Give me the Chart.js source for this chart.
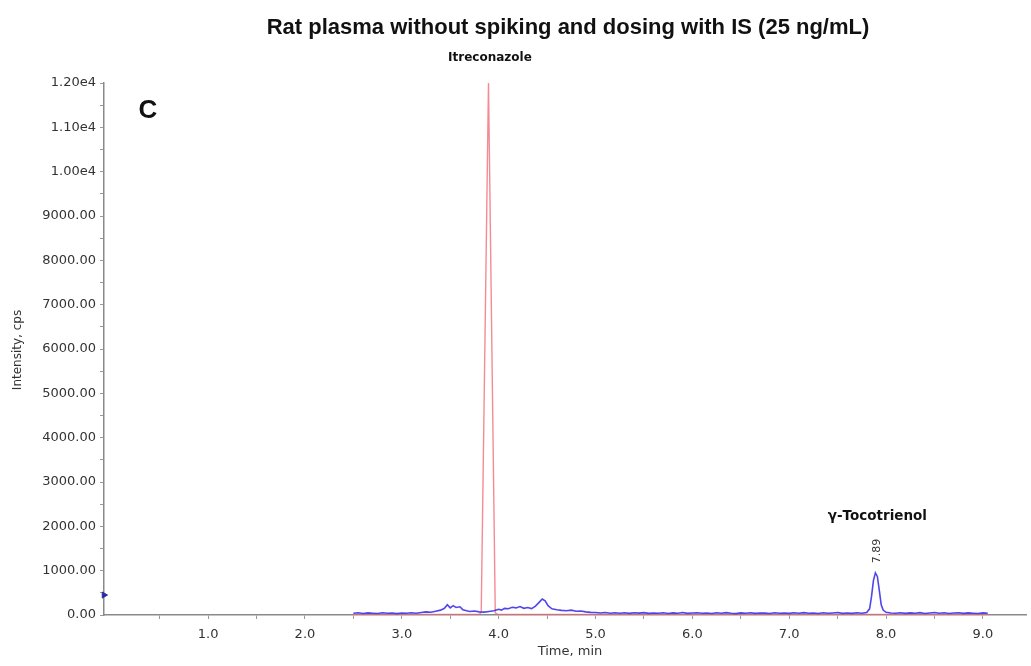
<!DOCTYPE html>
<html>
<head>
<meta charset="utf-8">
<script src="https://cdn.jsdelivr.net/npm/chart.js@4.4.1/dist/chart.umd.min.js"></script>
<style>
  html, body { margin: 0; padding: 0; background: #fff; }
  #chart { display: block; }
</style>
</head>
<body>
<canvas id="chart" width="1031" height="666"></canvas>
<script>
// gamma-tocotrienol trace (blue), time in min / intensity in cps
const tocoTime = [
  2.50, 2.55, 2.60, 2.65, 2.70, 2.75, 2.80, 2.85, 2.90, 2.95,
  3.00, 3.05, 3.10, 3.15, 3.20, 3.25, 3.30, 3.35, 3.40, 3.44,
  3.47, 3.50, 3.53, 3.56, 3.60, 3.63, 3.67, 3.70, 3.75, 3.80,
  3.85, 3.90, 3.95, 4.00, 4.03, 4.06, 4.10, 4.14, 4.18, 4.22,
  4.26, 4.30, 4.34, 4.38, 4.42, 4.45, 4.48, 4.51, 4.55, 4.60,
  4.65, 4.70, 4.75, 4.80, 4.85, 4.90, 4.95, 5.00, 5.05, 5.10,
  5.15, 5.20, 5.25, 5.30, 5.35, 5.40, 5.45, 5.50, 5.55, 5.60,
  5.65, 5.70, 5.75, 5.80, 5.85, 5.90, 5.95, 6.00, 6.05, 6.10,
  6.15, 6.20, 6.25, 6.30, 6.35, 6.40, 6.45, 6.50, 6.55, 6.60,
  6.65, 6.70, 6.75, 6.80, 6.85, 6.90, 6.95, 7.00, 7.05, 7.10,
  7.15, 7.20, 7.25, 7.30, 7.35, 7.40, 7.45, 7.50, 7.55, 7.60,
  7.65, 7.70, 7.75, 7.80, 7.83, 7.85, 7.87, 7.89, 7.91, 7.93,
  7.95, 7.97, 8.00, 8.05, 8.10, 8.15, 8.20, 8.25, 8.30, 8.35,
  8.40, 8.45, 8.50, 8.55, 8.60, 8.65, 8.70, 8.75, 8.80, 8.85,
  8.90, 8.95, 9.00, 9.05
];
const tocoCps = [
  38, 52, 34, 47, 40, 33, 50, 39, 45, 32,
  44, 38, 52, 40, 58, 70, 62, 85, 110, 150,
  230, 160, 210, 170, 185, 120, 95, 80, 90, 70,
  65, 80, 95, 130, 110, 150, 140, 175, 160, 190,
  150, 170, 145, 200, 290, 360, 320, 210, 140, 120,
  105, 95, 110, 85, 90, 70, 60, 55, 44, 56,
  40, 52, 38, 49, 36, 50, 43, 54, 37, 46,
  40, 52, 35, 47, 39, 55, 37, 45, 52, 38,
  46, 34, 51, 40, 53, 38, 32, 48, 39, 52,
  36, 46, 42, 33, 50, 39, 45, 36, 49, 40,
  54, 38, 45, 33, 50, 39, 46, 55, 37, 45,
  36, 50, 40, 58, 140, 420, 780, 950, 870, 560,
  230, 110, 60, 44, 38, 51, 36, 48, 39, 53,
  35, 45, 56, 38, 49, 33, 45, 52, 36, 48,
  40, 34, 47, 38
];

// itraconazole (IS) trace (red)
const itraTime = [2.50, 3.00, 3.50, 3.80, 3.82, 3.895, 3.965, 3.99, 4.50, 5.00, 6.00, 7.00, 7.85, 7.90, 7.95, 8.50, 9.05];
const itraCps  = [12, 10, 12, 14, 60, 12000, 50, 14, 12, 10, 10, 10, 12, 15, 12, 10, 10];

// start marker on the intensity axis
const markerTime = [-0.075];
const markerCps = [450];

const peakRt = 7.89;
const peakApex = 950;

const xTicks = [0.5, 1, 1.5, 2, 2.5, 3, 3.5, 4, 4.5, 5, 5.5, 6, 6.5, 7, 7.5, 8, 8.5, 9];
const yTicks = [0, 500, 1000, 1500, 2000, 2500, 3000, 3500, 4000, 4500, 5000, 5500,
  6000, 6500, 7000, 7500, 8000, 8500, 9000, 9500, 10000, 10500, 11000, 11500, 12000];

const toXY = (xs, ys) => xs.map((t, i) => ({ x: t, y: ys[i] }));

const SANS = '"DejaVu Sans", Verdana, sans-serif';
const ARIAL = '"Liberation Sans", Arial, sans-serif';

// titles, panel letter and peak annotations
const annotations = {
  id: 'annotations',
  afterDraw(chart) {
    const { ctx, scales: { x, y } } = chart;
    ctx.save();
    ctx.fillStyle = '#111';
    ctx.textAlign = 'center';
    ctx.textBaseline = 'middle';

    ctx.font = 'bold 22px ' + ARIAL;
    ctx.fillText('Rat plasma without spiking and dosing with IS (25 ng/mL)', 568, 28);

    ctx.font = 'bold 26px ' + ARIAL;
    ctx.fillText('C', 148, 111);

    ctx.font = 'bold 12px ' + SANS;
    ctx.fillText('Itreconazole', x.getPixelForValue(3.91), 58);

    const px = x.getPixelForValue(peakRt);
    const py = y.getPixelForValue(peakApex);
    ctx.font = 'bold 13.5px ' + SANS;
    ctx.fillText('\u03b3-Tocotrienol', px + 2, py - 56);

    ctx.save();
    ctx.translate(px + 2, py - 22);
    ctx.rotate(-Math.PI / 2);
    ctx.font = '11px ' + SANS;
    ctx.fillStyle = '#333';
    ctx.fillText(peakRt.toFixed(2), 0, 0);
    ctx.restore();

    ctx.fillStyle = '#333';
    ctx.font = '13px ' + SANS;
    ctx.fillText('Time, min', 570, 652);

    ctx.save();
    ctx.translate(18, 350);
    ctx.rotate(-Math.PI / 2);
    ctx.font = '12px ' + SANS;
    ctx.fillText('Intensity, cps', 0, 0);
    ctx.restore();

    ctx.restore();
  }
};

const ctx = document.getElementById('chart').getContext('2d');
const myChart = new Chart(ctx, {
  type: 'line',
  data: {
    datasets: [{
      label: 'gamma-Tocotrienol',
      data: toXY(tocoTime, tocoCps),
      borderColor: 'rgba(60, 50, 235, 0.9)',
      borderWidth: 1.6,
      pointRadius: 0,
      tension: 0,
      order: 0
    },
    {
      label: 'Itraconazole',
      data: toXY(itraTime, itraCps),
      borderColor: 'rgba(240, 100, 112, 0.75)',
      borderWidth: 1.4,
      pointRadius: 0,
      tension: 0,
      order: 1
    },
    {
      type: 'scatter',
      label: 'marker',
      data: toXY(markerTime, markerCps),
      pointStyle: 'triangle',
      rotation: 90,
      pointRadius: 3.5,
      backgroundColor: '#2a2aa8',
      borderColor: '#2a2aa8',
      clip: false,
      order: 0
    }]
  },
  options: {
    responsive: false,
    animation: false,
    devicePixelRatio: 1,
    layout: {
      padding: { top: 83, left: 0, right: 0, bottom: 0 }
    },
    plugins: {
      legend: { display: false },
      tooltip: { enabled: false },
      title: { display: false }
    },
    scales: {
      x: {
        type: 'linear',
        min: -0.075,
        max: 9.445,
        afterFit: (scale) => { scale.height = 51; },
        afterBuildTicks: (scale) => { scale.ticks = xTicks.map(v => ({ value: v })); },
        border: { color: '#8a8a8a', width: 1.5 },
        grid: { drawOnChartArea: false, drawTicks: true, tickLength: 4, color: '#9a9a9a' },
        ticks: {
          autoSkip: false,
          maxRotation: 0,
          padding: 8,
          color: '#333',
          font: { family: SANS, size: 13 },
          callback: (v) => (Number.isInteger(v) && v >= 1 && v <= 9) ? v.toFixed(1) : ''
        }
      },
      y: {
        min: 0,
        max: 12000,
        afterFit: (scale) => { scale.width = 104; },
        afterBuildTicks: (scale) => { scale.ticks = yTicks.map(v => ({ value: v })); },
        border: { color: '#8a8a8a', width: 1.5 },
        grid: { drawOnChartArea: false, drawTicks: true, tickLength: 4, color: '#9a9a9a' },
        ticks: {
          autoSkip: false,
          padding: 4,
          color: '#333',
          font: { family: SANS, size: 13 },
          callback: (v) => {
            if (v % 1000 !== 0) return '';
            return v >= 10000 ? (v / 10000).toFixed(2) + 'e4' : v.toFixed(2);
          }
        }
      }
    }
  },
  plugins: [annotations]
});
</script>
</body>
</html>
